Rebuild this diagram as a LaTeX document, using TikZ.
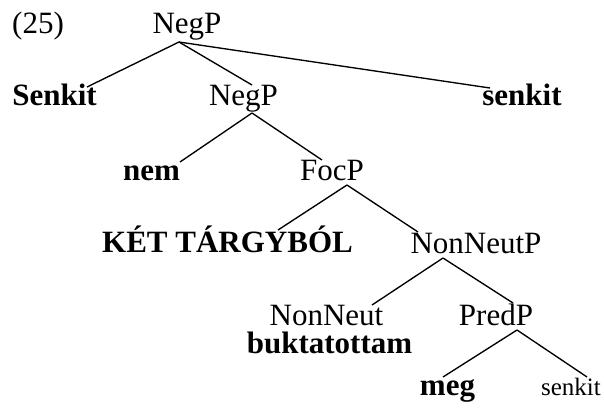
\documentclass[tikz,border=0pt]{standalone}
\usepackage{fontspec}
\setmainfont{Liberation Serif}
\begin{document}
\begin{tikzpicture}[x=1pt,y=-1pt,
  lab/.style={inner sep=0pt,anchor=base,font=\fontsize{31}{31}\selectfont},
  blab/.style={lab,font=\fontsize{31}{31}\selectfont\bfseries},
  slab/.style={lab,font=\fontsize{25}{25}\selectfont},
  edge/.style={line width=1.35pt}]
\useasboundingbox (0,0) rectangle (604,408);
\node[lab,anchor=base west] (ex) at (12,33) {(25)};
\node[lab] (negpA) at (187,33) {NegP};
\node[blab] (senkitA) at (54.5,105) {Senkit};
\node[lab] (negpB) at (243.5,105) {NegP};
\node[blab] (senkitB) at (522,105) {senkit};
\node[blab] (nem) at (151.5,180) {nem};
\node[lab] (focp) at (332,180) {FocP};
\node[blab] (ket) at (227.5,252) {KÉT TÁRGYBÓL};
\node[lab] (nonneutp) at (476,253) {NonNeutP};
\node[lab] (nonneut) at (326.5,325) {NonNeut};
\node[blab] (buk) at (329.5,353) {buktatottam};
\node[lab] (predp) at (496,325) {PredP};
\node[blab] (meg) at (447.5,395) {meg};
\node[slab] (senkitC) at (571,395) {senkit};
% connectors
\draw[edge] ([shift={(-8,9)}]negpA.base) -- ([shift={(32.5,-18)}]senkitA.base);
\draw[edge] ([shift={(-8,9)}]negpA.base) -- ([shift={(8.5,-20)}]negpB.base);
\draw[edge] ([shift={(-8,9)}]negpA.base) -- ([shift={(-32,-17)}]senkitB.base);
\draw[edge] ([shift={(8.5,8)}]negpB.base) -- ([shift={(28.5,-18)}]nem.base);
\draw[edge] ([shift={(8.5,8)}]negpB.base) -- ([shift={(-10,-20)}]focp.base);
\draw[edge] ([shift={(15,5)}]focp.base) -- ([shift={(50.5,-22)}]ket.base);
\draw[edge] ([shift={(15,5)}]focp.base) -- ([shift={(-58,-21)}]nonneutp.base);
\draw[edge] ([shift={(-33,5)}]nonneutp.base) -- ([shift={(45.5,-20)}]nonneut.base);
\draw[edge] ([shift={(-33,5)}]nonneutp.base) -- ([shift={(17,-22)}]predp.base);
\draw[edge] ([shift={(21,5)}]predp.base) -- ([shift={(-4.5,-18)}]meg.base);
\draw[edge] ([shift={(21,5)}]predp.base) -- ([shift={(16,-18)}]senkitC.base);
\end{tikzpicture}
\end{document}
